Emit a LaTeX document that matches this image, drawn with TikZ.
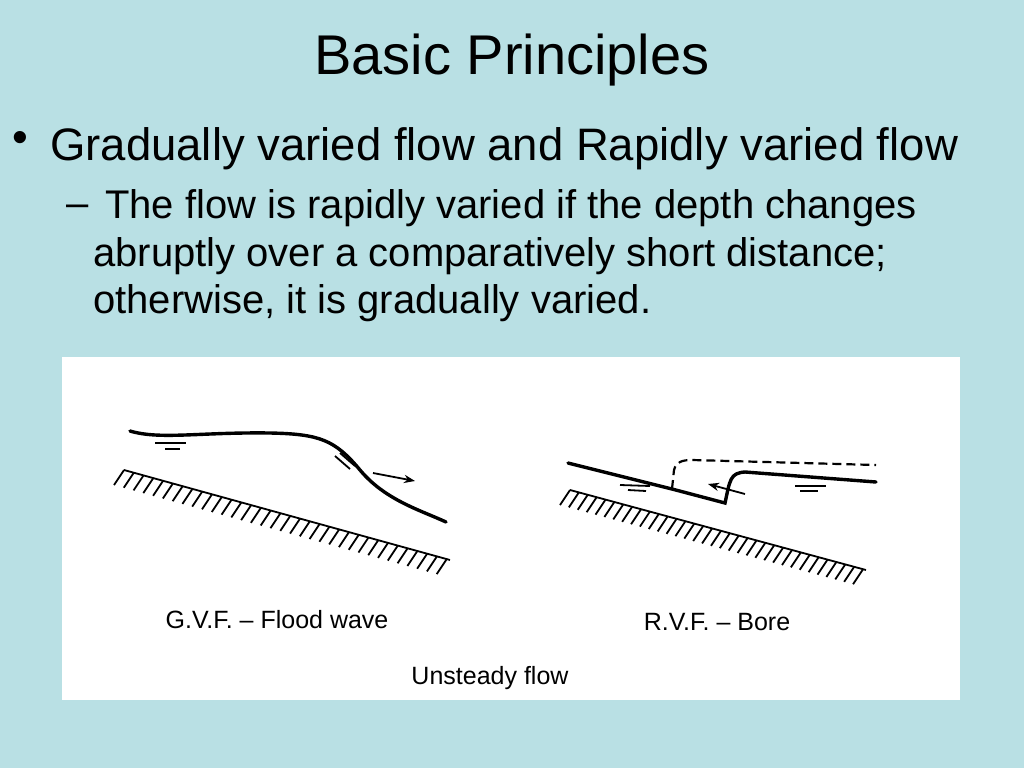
\documentclass[tikz,border=0pt]{standalone}
\usepackage{fontspec}
\setmainfont{Liberation Sans}
\usetikzlibrary{arrows.meta,calc}
\begin{document}
\begin{tikzpicture}[x=1pt,y=-1pt,
  surf/.style={line width=3.4pt,line cap=round},
  thin/.style={line width=1.8pt},
  lbl/.style={font=\fontsize{25}{27}\selectfont}]
\useasboundingbox (0,0) rectangle (1024,768);
\fill[fill={rgb,255:red,185;green,224;blue,228}] (0,0) rectangle (1024,768);
\node (title) at (512,60) {\fontsize{56}{60}\selectfont Basic Principles};
\node[font=\fontsize{45}{48}\selectfont] (bul) at (20,142) {\textbullet};
\node[anchor=base west,inner sep=0pt] (b1) at (50,160) {\fontsize{45.5}{48}\selectfont Gradually varied flow and Rapidly varied flow};
\node[font=\fontsize{40}{40}\selectfont,anchor=base west,inner sep=0pt] (dash) at (66,216) {–};
\node[anchor=base west,inner sep=0pt,font=\fontsize{40}{40}\selectfont] (s1) at (105,218) {The flow is rapidly varied if the depth changes};
\node[anchor=base west,inner sep=0pt,font=\fontsize{40}{40}\selectfont] (s2) at (93,266) {abruptly over a comparatively short distance;};
\node[anchor=base west,inner sep=0pt,font=\fontsize{40}{40}\selectfont] (s3) at (93,313) {otherwise, it is gradually varied.};
\fill[white] (62,357) rectangle (960,700);
% left figure
\draw[thin] (124,470) -- (450,560);
\foreach \t in {0,0.03,...,1.0}{
  \draw[thin] ($(124,470)!\t!(450,560)$) -- ++(-10,15);}
\draw[surf] (130,431) .. controls (160,440) and (200,432) .. (270,433)
  .. controls (320,434) and (335,440) .. (360,470)
  .. controls (385,500) and (420,510) .. (446,522);
\draw[thin,-{Stealth[length=11pt]}] (373,473) -- (415,481);
\draw[thin] (335,456) -- (350,469) (340,453) -- (355,466);
\draw[thin] (155,443) -- (186,443) (165,449) -- (180,449);
% right figure
\draw[thin] (570,490) -- (866,570);
\foreach \t in {0,0.03,...,1.0}{
  \draw[thin] ($(570,490)!\t!(866,570)$) -- ++(-10,15);}
\draw[surf] (568,463) -- (672,489) -- (725,503)
  .. controls (730,480) and (730,473) .. (745,472) -- (876,482);
\draw[thin,dash pattern=on 9pt off 5pt,line width=2.2pt] (672,489) -- (674,470)
  .. controls (676,462) and (682,460) .. (692,460) -- (876,465);
\draw[thin,-{Stealth[length=11pt]}] (745,494) -- (708,484);
\draw[thin] (620,485) -- (650,486) (628,490) -- (646,491);
\draw[thin] (795,486) -- (826,486) (800,491) -- (818,491);
\node[lbl] (l1) at (277,620) {G.V.F. – Flood wave};
\node[lbl] (l2) at (717,622) {R.V.F. – Bore};
\node[lbl] (l3) at (490,678) {Unsteady flow};
\end{tikzpicture}
\end{document}
